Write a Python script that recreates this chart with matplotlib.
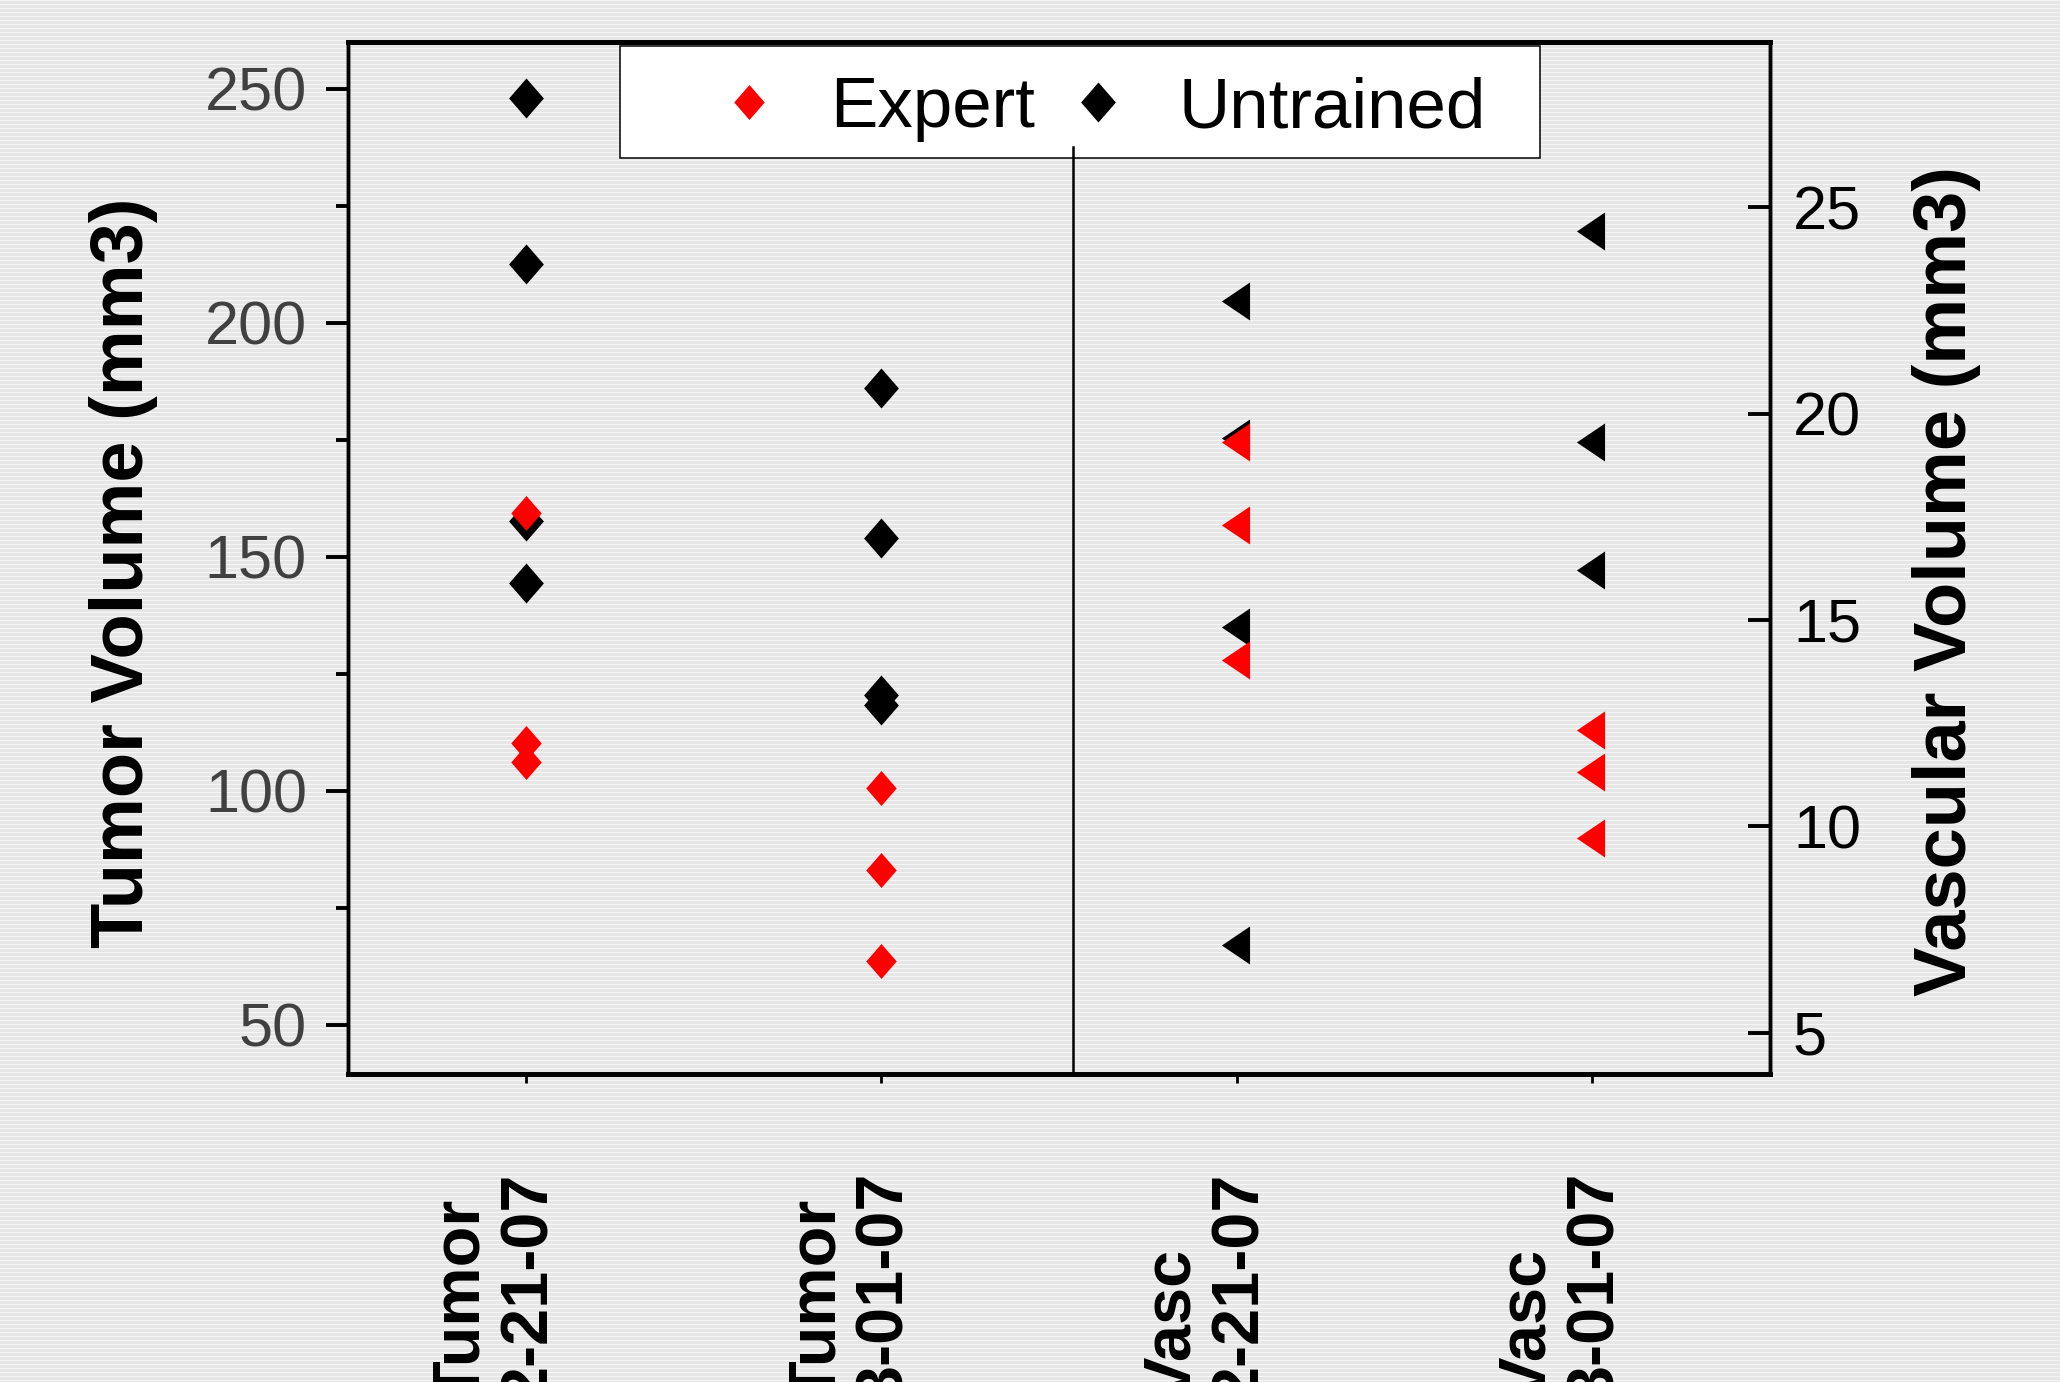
import numpy as np
import matplotlib
matplotlib.use('Agg')
import matplotlib.pyplot as plt
import matplotlib.transforms as mtransforms
from matplotlib.path import Path
from matplotlib.patches import Rectangle
from matplotlib.ticker import MultipleLocator

# values
categories = ['Tumor\n2-21-07', 'Tumor\n3-01-07', 'Vasc\n2-21-07', 'Vasc\n3-01-07']
tumor_x = [0, 1]
vasc_x = [2, 3]
tumor_untrained = [[248.1, 212.5, 157.6, 144.4], [186.1, 154.0, 120.5, 118.3]]
tumor_expert = [[159.4, 110.3, 106.1], [100.6, 83.1, 63.6]]
vasc_untrained = [[22.72, 19.40, 14.84, 7.13], [24.41, 19.32, 16.21]]
vasc_expert = [[19.32, 17.31, 14.02], [12.33, 11.32, 9.71]]

plt.rcParams['font.family'] = ['Liberation Sans', 'DejaVu Sans']

# marker shapes: slightly tall diamond and left pointing triangle
diamond = Path([(0, 1), (0.87, 0), (0, -1), (-0.87, 0), (0, 1)],
               [Path.MOVETO, Path.LINETO, Path.LINETO, Path.LINETO, Path.CLOSEPOLY])
tri_left = Path([(-0.82, 0), (0.66, 1), (0.66, -1), (-0.82, 0)],
                [Path.MOVETO, Path.LINETO, Path.LINETO, Path.CLOSEPOLY])

fig = plt.figure(figsize=(20.6, 13.82), dpi=100)

# striped grey background
stripes = np.full((1382, 2060, 3), 0.905)
stripes[::4] = 0.965
fig.figimage(stripes, 0, 0, zorder=-5)

ax = fig.add_axes([0.16893, 0.22287, 0.69029, 0.74674])
ax.set_facecolor('none')
ax2 = ax.twinx()
ax2.set_facecolor('none')

# tumor volumes on the left axis
for x, vals in zip(tumor_x, tumor_untrained):
    h_black, = ax.plot([x] * len(vals), vals, ls='none', marker=diamond,
                       ms=28.8, mew=0, color='black', label='Untrained')
for x, vals in zip(tumor_x, tumor_expert):
    h_red, = ax.plot([x] * len(vals), vals, ls='none', marker=diamond,
                     ms=25.2, mew=0, color='red', label='Expert')

# vascular volumes on the right axis
for x, vals in zip(vasc_x, vasc_untrained):
    ax2.plot([x] * len(vals), vals, ls='none', marker=tri_left,
             ms=27.4, mew=0, color='black')
for x, vals in zip(vasc_x, vasc_expert):
    ax2.plot([x] * len(vals), vals, ls='none', marker=tri_left,
             ms=27.4, mew=0, color='red')

ax.set_xlim(-0.5, 3.5)
ax.set_ylim(39.5, 260)
ax2.set_ylim(4, 29)

ax.yaxis.set_major_locator(MultipleLocator(50))
ax.yaxis.set_minor_locator(MultipleLocator(25))
ax2.yaxis.set_major_locator(MultipleLocator(5))

# category labels: second line sits on the tick, first line to its left
ax.set_xticks(range(len(categories)))
ax.set_xticklabels([])
lab_trans = mtransforms.blended_transform_factory(ax.transData, ax.transAxes) + \
    mtransforms.ScaledTranslation(-0.30, 0, fig.dpi_scale_trans)
for i, lab in enumerate(categories):
    ax.text(i, -0.095, lab, transform=lab_trans, rotation=90, ha='center', va='top',
            multialignment='left', linespacing=1.12, fontsize=48, fontweight='bold')

ax.tick_params(axis='y', which='major', direction='out', length=15.6, width=2.8,
               labelsize=44, labelcolor='#404040', pad=14)
ax.tick_params(axis='y', which='minor', direction='out', length=8.4, width=2.8)
ax.tick_params(axis='x', direction='out', length=6.5, width=2)
ax2.tick_params(axis='y', direction='in', length=15.6, width=2.8,
                labelsize=44, labelcolor='black', pad=16.5)

for a in (ax, ax2):
    a.spines['left'].set_linewidth(2.5)
    a.spines['right'].set_linewidth(2.5)
    a.spines['top'].set_linewidth(3.4)
    a.spines['bottom'].set_linewidth(3.4)

ax.set_ylabel('Tumor Volume (mm3)', fontsize=53.4, fontweight='bold')
ax.yaxis.set_label_coords(-0.1336, 0.4855)
ax2.set_ylabel('Vascular Volume (mm3)', fontsize=53.4, fontweight='bold', rotation=90)
ax2.yaxis.set_label_coords(1.0998, 0.4777)

# legend box and entries
ax2.add_patch(Rectangle((0.1913, 0.8876), 0.647, 0.1085, transform=ax2.transAxes,
                        facecolor='white', edgecolor='black', lw=1.1, zorder=4,
                        clip_on=False))
ax2.legend(handles=[h_red, h_black], ncol=2, loc='center left',
           bbox_to_anchor=(0.2572, 0.935), frameon=False, borderpad=0,
           borderaxespad=0, handlelength=1.0, handletextpad=0.64,
           columnspacing=0.39, prop={'size': 51})

ax2.axvline(1.54, ymin=0, ymax=0.898, color='black', lw=1.8, zorder=6)

fig.savefig('out.png', dpi=100)
